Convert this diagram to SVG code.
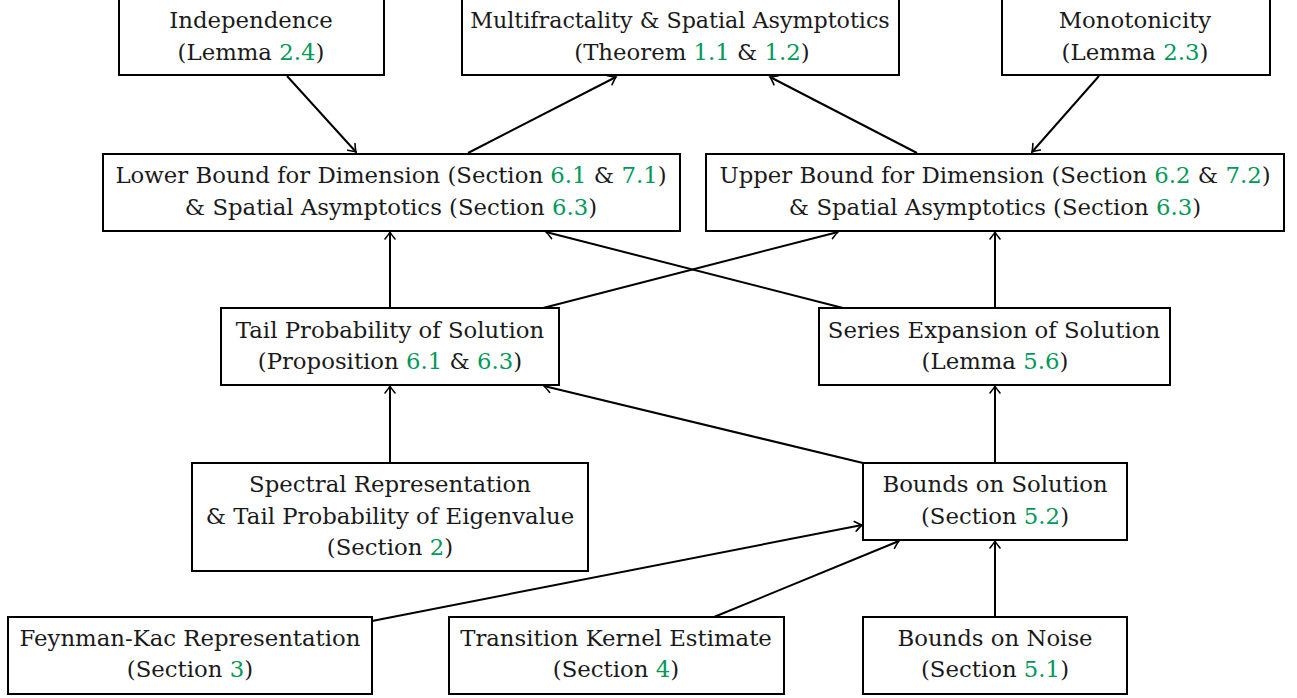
<svg xmlns="http://www.w3.org/2000/svg" width="1297" height="698" viewBox="0 0 1297 698">
<defs>
<style>
.box{fill:#fff;stroke:#000;stroke-width:2}
.t{font-family:"DejaVu Serif","Liberation Serif",serif;font-size:22.8px;fill:#1a1a1a;text-anchor:middle}
.g{fill:#00995a}
.c line{stroke:#000;stroke-width:2;marker-end:url(#ah)}
</style>
<marker id="ah" viewBox="-10 -6 12 12" refX="0" refY="0" markerWidth="12" markerHeight="12" markerUnits="userSpaceOnUse" orient="auto">
<path d="M-7,-5 Q-2,-1 0,0 Q-2,1 -7,5" fill="none" stroke="#000" stroke-width="1.6" stroke-linecap="round"/>
</marker>
</defs>
<rect width="1297" height="698" fill="#fff"/>
<g class="c" id="connectors">
<line x1="287" y1="76" x2="356" y2="152"/>
<line x1="468" y1="153" x2="616" y2="77"/>
<line x1="917" y1="153" x2="770" y2="77"/>
<line x1="1099" y1="76" x2="1032" y2="152"/>
<line x1="390" y1="308" x2="390" y2="232"/>
<line x1="543" y1="308" x2="838" y2="232"/>
<line x1="843" y1="308" x2="546" y2="232"/>
<line x1="995" y1="308" x2="995" y2="232"/>
<line x1="390" y1="463" x2="390" y2="386"/>
<line x1="863" y1="463" x2="544" y2="386"/>
<line x1="995" y1="463" x2="995" y2="386"/>
<line x1="372" y1="621" x2="862" y2="525"/>
<line x1="714" y1="617" x2="899" y2="541"/>
<line x1="995" y1="617" x2="995" y2="541"/>
</g>
<g id="independence">
<rect class="box" x="119" y="-1" width="265" height="76"/>
<text class="t" x="251" y="28">Independence</text>
<text class="t" x="251" y="60">(Lemma <tspan class="g">2.4</tspan>)</text>
</g>
<g id="multifractality">
<rect class="box" x="462" y="-1" width="437" height="76"/>
<text class="t" x="680" y="28" style="font-size:22.2px">Multifractality &amp; Spatial Asymptotics</text>
<text class="t" x="692" y="60">(Theorem <tspan class="g">1.1</tspan> &amp; <tspan class="g">1.2</tspan>)</text>
</g>
<g id="monotonicity">
<rect class="box" x="1002" y="-1" width="268" height="76"/>
<text class="t" x="1135" y="28">Monotonicity</text>
<text class="t" x="1135" y="60">(Lemma <tspan class="g">2.3</tspan>)</text>
</g>
<g id="lowerbound">
<rect class="box" x="103" y="154" width="577" height="77"/>
<text class="t" x="391" y="183">Lower Bound for Dimension (Section <tspan class="g">6.1</tspan> &amp; <tspan class="g">7.1</tspan>)</text>
<text class="t" x="391" y="215">&amp; Spatial Asymptotics (Section <tspan class="g">6.3</tspan>)</text>
</g>
<g id="upperbound">
<rect class="box" x="706" y="154" width="578" height="77"/>
<text class="t" x="995" y="183">Upper Bound for Dimension (Section <tspan class="g">6.2</tspan> &amp; <tspan class="g">7.2</tspan>)</text>
<text class="t" x="995" y="215">&amp; Spatial Asymptotics (Section <tspan class="g">6.3</tspan>)</text>
</g>
<g id="tailprob">
<rect class="box" x="221" y="308" width="338" height="77"/>
<text class="t" x="390" y="338">Tail Probability of Solution</text>
<text class="t" x="390" y="369">(Proposition <tspan class="g">6.1</tspan> &amp; <tspan class="g">6.3</tspan>)</text>
</g>
<g id="series">
<rect class="box" x="819" y="308" width="351" height="77"/>
<text class="t" x="994" y="338">Series Expansion of Solution</text>
<text class="t" x="995" y="369">(Lemma <tspan class="g">5.6</tspan>)</text>
</g>
<g id="spectral">
<rect class="box" x="192" y="463" width="396" height="108"/>
<text class="t" x="390" y="492">Spectral Representation</text>
<text class="t" x="390" y="524">&amp; Tail Probability of Eigenvalue</text>
<text class="t" x="390" y="555">(Section <tspan class="g">2</tspan>)</text>
</g>
<g id="boundssolution">
<rect class="box" x="863" y="463" width="264" height="77"/>
<text class="t" x="995" y="492">Bounds on Solution</text>
<text class="t" x="995" y="524">(Section <tspan class="g">5.2</tspan>)</text>
</g>
<g id="feynmankac">
<rect class="box" x="8" y="617" width="364" height="77"/>
<text class="t" x="190" y="646">Feynman-Kac Representation</text>
<text class="t" x="190" y="677">(Section <tspan class="g">3</tspan>)</text>
</g>
<g id="transition">
<rect class="box" x="449" y="617" width="335" height="77"/>
<text class="t" x="616" y="646">Transition Kernel Estimate</text>
<text class="t" x="616" y="677">(Section <tspan class="g">4</tspan>)</text>
</g>
<g id="boundsnoise">
<rect class="box" x="863" y="617" width="264" height="77"/>
<text class="t" x="995" y="646">Bounds on Noise</text>
<text class="t" x="995" y="677">(Section <tspan class="g">5.1</tspan>)</text>
</g>
</svg>
